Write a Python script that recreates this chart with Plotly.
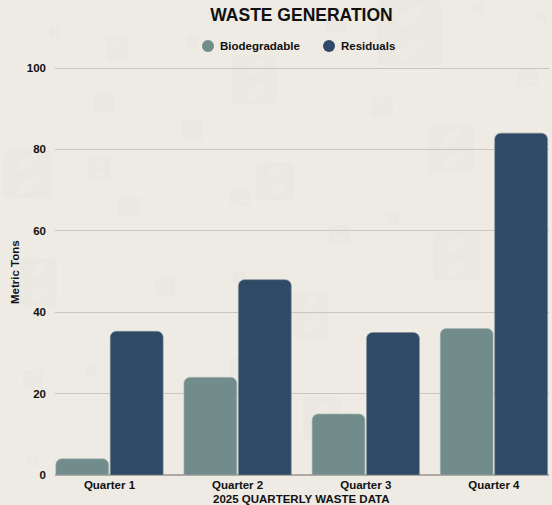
import plotly.graph_objects as go

WIDTH, HEIGHT = 552, 505
LEFT, RIGHT, TOP, BOTTOM = 55, 3, 66, 30

quarters = ["Quarter 1", "Quarter 2", "Quarter 3", "Quarter 4"]
biodegradable = [4, 24, 15, 36]
residuals = [35.3, 48, 35, 84]

BG = "#EEEAE4"
TEAL = "#728C8C"
NAVY = "#2F4A66"
INK = "#111111"
FONT = "Liberation Sans"

# Background emblem tiles: left, top, right, bottom in page pixels
emblems = [
    (3, 150, 52, 198), (232, 55, 277, 105), (377, 0, 442, 66), (428, 124, 474, 173),
    (433, 232, 480, 281), (292, 291, 328, 339), (303, 397, 341, 440), (20, 258, 57, 306),
    (256, 162, 294, 200), (155, 278, 175, 296), (23, 370, 43, 388), (85, 365, 97, 376),
    (27, 455, 38, 466), (233, 272, 245, 283), (230, 357, 240, 375), (50, 27, 60, 38),
    (107, 37, 128, 60), (187, 36, 197, 48), (94, 93, 114, 112), (182, 120, 203, 140),
    (88, 157, 110, 180), (118, 197, 140, 216), (230, 188, 250, 206), (326, 20, 346, 33),
    (472, 2, 483, 12), (536, 12, 546, 22), (517, 68, 538, 86), (372, 97, 393, 116),
    (388, 213, 399, 225), (329, 225, 350, 243),
]

# Legend entries: label, colour, key centre x, label start x
legend_entries = [("Biodegradable", TEAL, 208, 219), ("Residuals", NAVY, 329, 340)]
LEGEND_Y = 46
KEY_RADIUS = 6


def px(x):
    return (x - LEFT) / (WIDTH - LEFT - RIGHT)


def py(y):
    return 1 - (y - TOP) / (HEIGHT - TOP - BOTTOM)


def emblem_shapes(x0, y0, x1, y1):
    w, h = x1 - x0, y1 - y0
    r = min(w, h) * 0.12

    def pt(u, v):
        return f"{px(x0 + u * w):.4f},{py(y0 + v * h):.4f}"

    tile = (
        f"M{pt(r / w, 0)} L{pt(1 - r / w, 0)} Q{pt(1, 0)} {pt(1, r / h)} "
        f"L{pt(1, 1 - r / h)} Q{pt(1, 1)} {pt(1 - r / w, 1)} L{pt(r / w, 1)} "
        f"Q{pt(0, 1)} {pt(0, 1 - r / h)} L{pt(0, r / h)} Q{pt(0, 0)} {pt(r / w, 0)} Z"
    )
    leaf_a = f"M{pt(.27, .45)} Q{pt(.3, .15)} {pt(.72, .07)} Q{pt(.72, .38)} {pt(.27, .45)} Z"
    leaf_b = f"M{pt(.27, .93)} Q{pt(.3, .62)} {pt(.78, .55)} Q{pt(.72, .88)} {pt(.27, .93)} Z"
    common = dict(type="path", xref="paper", yref="paper", layer="below", line_width=0)
    return [
        dict(path=tile, fillcolor="#EBE7E1", **common),
        dict(path=leaf_a, fillcolor="#EDE9E3", **common),
        dict(path=leaf_b, fillcolor="#EDE9E3", **common),
    ]


shapes = [s for box in emblems for s in emblem_shapes(*box)]
annotations = [
    dict(text="<b>Metric Tons</b>", xref="paper", yref="paper", x=px(15), y=py(272),
         textangle=-90, showarrow=False, xanchor="center", yanchor="middle",
         font=dict(size=11.5, family=FONT, color=INK)),
    dict(text="<b>2025 QUARTERLY WASTE DATA</b>", xref="paper", yref="paper", x=px(301), y=py(499),
         showarrow=False, xanchor="center", yanchor="middle",
         font=dict(size=11.5, family=FONT, color=INK)),
]

# Legend drawn by hand so the round keys sit close to their labels
for label, colour, key_x, text_x in legend_entries:
    shapes.append(dict(type="circle", xref="paper", yref="paper", line_width=0, fillcolor=colour,
                       x0=px(key_x - KEY_RADIUS), x1=px(key_x + KEY_RADIUS),
                       y0=py(LEGEND_Y + KEY_RADIUS), y1=py(LEGEND_Y - KEY_RADIUS)))
    annotations.append(dict(text=f"<b>{label}</b>", xref="paper", yref="paper",
                            x=px(text_x), y=py(LEGEND_Y), showarrow=False,
                            xanchor="left", yanchor="middle", xshift=-1,
                            font=dict(size=11.5, family=FONT, color=INK)))

fig = go.Figure()
fig.add_bar(x=quarters, y=biodegradable, name="Biodegradable", marker_color=TEAL,
            marker_line=dict(color="#A9B5B2", width=0.6))
fig.add_bar(x=quarters, y=residuals, name="Residuals", marker_color=NAVY,
            marker_line=dict(color="#7E8B99", width=0.6))

fig.update_layout(
    width=WIDTH, height=HEIGHT, autosize=False, showlegend=False,
    margin=dict(l=LEFT, r=RIGHT, t=TOP, b=BOTTOM, autoexpand=False),
    paper_bgcolor=BG, plot_bgcolor="rgba(0,0,0,0)",
    barmode="group", bargap=0.15, bargroupgap=0.03, barcornerradius=6,
    font=dict(family=FONT, color=INK),
    title=dict(text="<b>WASTE GENERATION</b>", x=301.5 / WIDTH, xanchor="center",
               y=1 - 14.5 / HEIGHT, yanchor="middle", font=dict(size=17.5, family=FONT, color=INK)),
    xaxis=dict(type="category", categoryorder="array", categoryarray=quarters,
               range=[-0.425, 3.43], showgrid=False, showline=False, zeroline=False,
               ticks="", ticklabelstandoff=1,
               tickfont=dict(size=11.5, family=FONT, weight="bold", color=INK)),
    yaxis=dict(range=[0, 100.5], tick0=0, dtick=20, gridcolor="#C9C5BF", gridwidth=1,
               zeroline=True, zerolinecolor="#B0A9A3", zerolinewidth=1.5,
               showline=False, ticks="", ticklabelstandoff=8,
               tickfont=dict(size=11.5, family=FONT, weight="bold", color=INK)),
    shapes=shapes,
    annotations=annotations,
)

fig.write_html("out.html", config=dict(displayModeBar=False))
